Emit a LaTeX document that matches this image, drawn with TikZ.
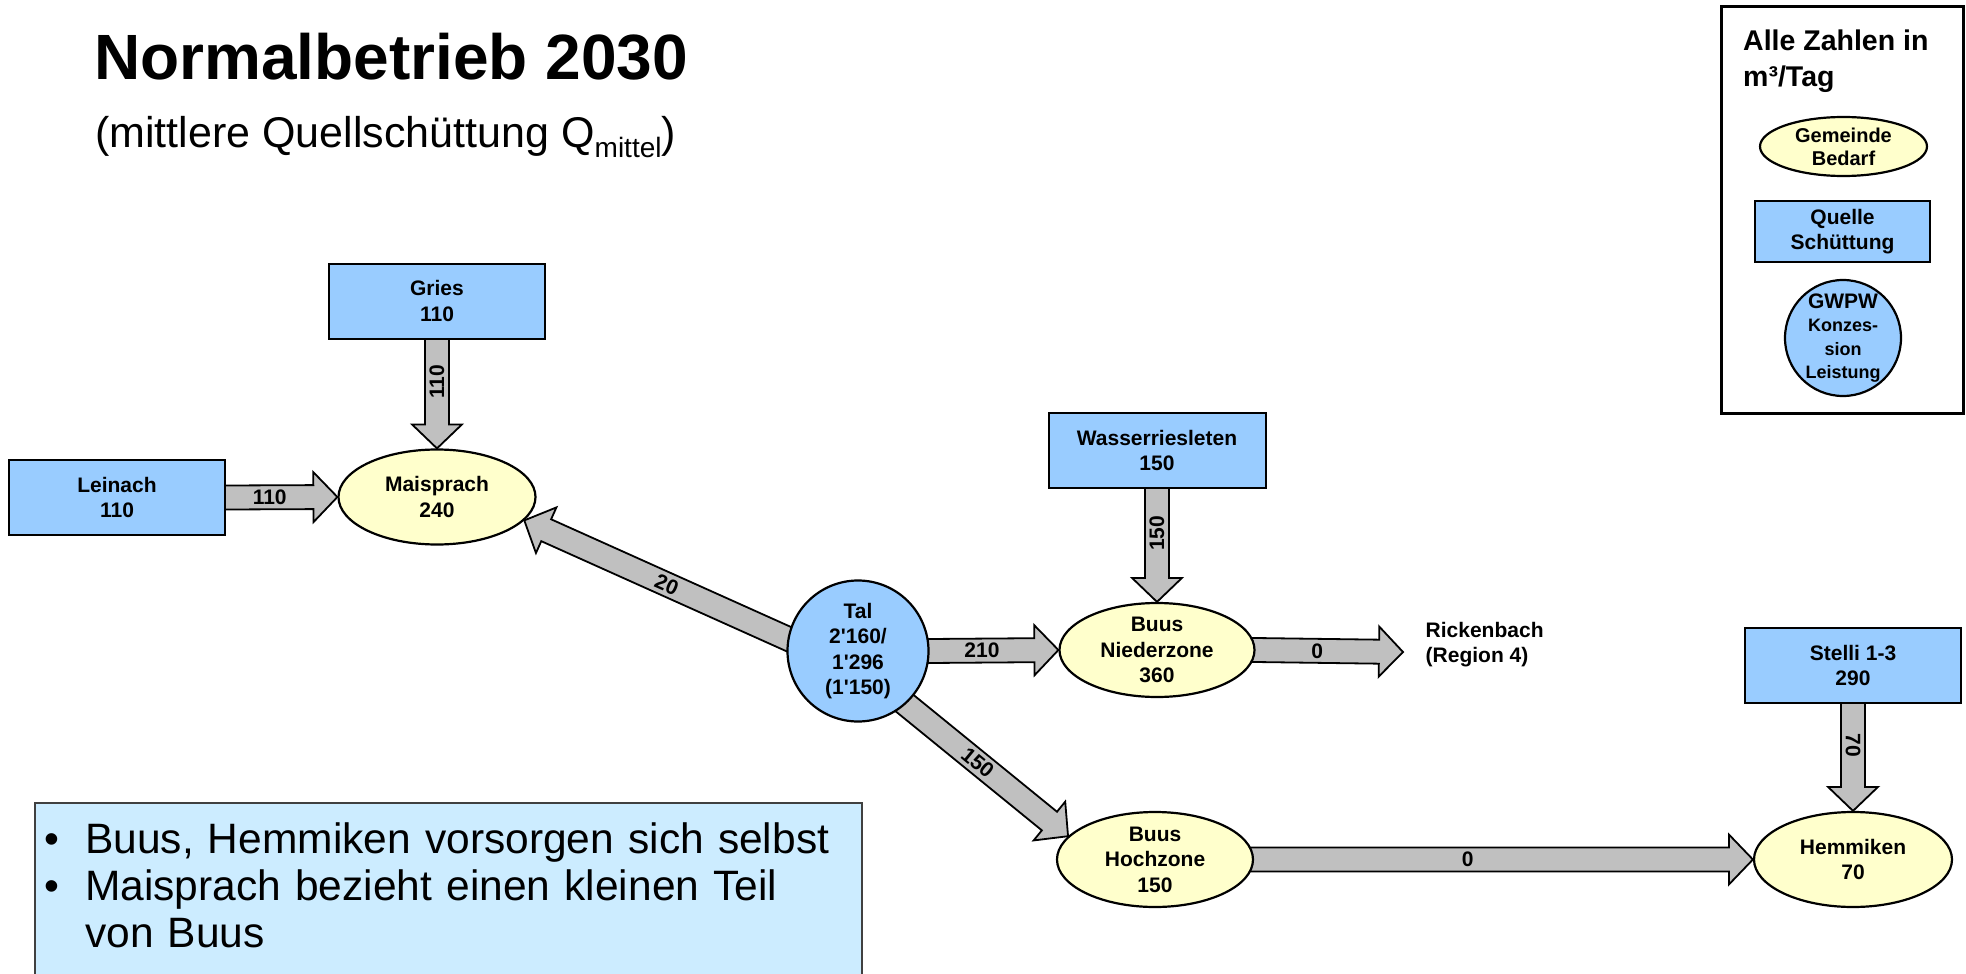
\documentclass[tikz,border=0pt]{standalone}
\usepackage{fontspec}
\setmainfont{Liberation Sans}[Ligatures=TeXOff]
\usetikzlibrary{shapes.geometric,calc}
\pgfdeclarelayer{background}
\pgfsetlayers{background,main}

\definecolor{srcblue}{HTML}{99CCFF}
\definecolor{demandyellow}{HTML}{FFFFCC}
\definecolor{flowgray}{HTML}{C0C0C0}
\definecolor{notefill}{HTML}{CCECFF}

\tikzset{
  lbl/.style={font=\fontsize{21}{25.5}\selectfont\bfseries, align=center},
  source/.style={lbl, draw, line width=2pt, fill=srcblue,
    minimum width=216pt, minimum height=75pt, inner sep=0pt},
  demand/.style={lbl, ellipse, draw, line width=2.2pt, fill=demandyellow,
    minimum width=197pt, minimum height=95pt, inner sep=-30pt},
  plant/.style={lbl, circle, draw, line width=2.2pt, fill=srcblue,
    minimum size=141pt, inner sep=0pt},
  flowarrow/.style={draw, line width=1.8pt, fill=flowgray, line join=miter},
  flowlabel/.style={font=\fontsize{21}{21}\selectfont\bfseries, inner sep=0pt},
}

% broad block arrow from #1 to #2, label #3 turned by #4, placed at #5 of the shaft
\newcommand{\waterflow}[5]{%
  \coordinate (wf-a) at (#1);
  \coordinate (wf-e) at (#2);
  \coordinate (wf-s) at ($(wf-a)!-8pt!(wf-e)$);
  \coordinate (wf-b) at ($(wf-e)!24pt!(wf-a)$);
  \begin{pgfonlayer}{background}
    \draw[flowarrow]
      ($(wf-s)!12pt!90:(wf-e)$) -- ($(wf-b)!12pt!90:(wf-e)$) --
      ($(wf-b)!25pt!90:(wf-e)$) -- (wf-e) --
      ($(wf-b)!25pt!-90:(wf-e)$) -- ($(wf-b)!12pt!-90:(wf-e)$) --
      ($(wf-s)!12pt!-90:(wf-e)$) -- cycle;
  \end{pgfonlayer}
  \node[flowlabel, rotate=#4] at ($(wf-a)!#5!(wf-b)$) {#3};
}

% one bulleted line of the remarks box, and its continuation line
\newcommand{\remarkitem}[1]{\noindent\makebox[41pt][l]{\textbullet}#1\par}
\newcommand{\remarkcont}[1]{\noindent\hspace*{41pt}#1\par}

\begin{document}
\begin{tikzpicture}[x=1pt, y=-1pt]
\useasboundingbox (0,0) rectangle (1966,974);

% heading
\node[anchor=base west, inner sep=0pt, font=\fontsize{64}{70}\selectfont\bfseries]
  (title) at (94,80) {Normalbetrieb 2030};
\node[anchor=base west, inner sep=0pt, font=\fontsize{43}{50}\selectfont]
  (subtitle) at (95,147)
  {(mittlere Quellschüttung Q\raisebox{-10pt}{\fontsize{28}{30}\selectfont mittel})};

% legend
\draw[line width=3pt] (1721,7) rectangle (1963,413);
\node[anchor=base west, inner sep=0pt, font=\fontsize{28.5}{35}\selectfont\bfseries]
  (unit1) at (1743,51) {Alle Zahlen in};
\node[anchor=base west, inner sep=0pt, font=\fontsize{28.5}{35}\selectfont\bfseries]
  (unit2) at (1743,86) {m³/Tag};
\node[demand, font=\fontsize{20}{23}\selectfont\bfseries,
  minimum width=167pt, minimum height=59pt] (keydemand) at (1843.5,146.5) {Gemeinde\\Bedarf};
\node[source, minimum width=175pt, minimum height=61pt] (keysource) at (1842.5,231.5) {Quelle\\Schüttung};
\node[plant, font=\fontsize{18}{23.5}\selectfont\bfseries, minimum size=116pt, inner sep=-3pt]
  (keyplant) at (1843,338)
  {{\fontsize{21}{23.5}\selectfont GWPW}\\Konzes-\\sion\\Leistung};

% sources
\node[source] (gries) at (437,301) {Gries\\110};
\node[source] (lein) at (117,497.5) {Leinach\\110};
\node[source, minimum width=217pt] (wass) at (1157,450.5) {Wasserriesleten\\150};
\node[source] (stel) at (1853,665.5) {Stelli 1-3\\290};

% consumers
\node[demand] (mais) at (437,497) {Maisprach\\240};
\node[demand, minimum width=195pt, minimum height=94pt] (nied) at (1157,650) {Buus\\Niederzone\\360};
\node[demand, minimum width=196pt] (hoch) at (1155,859.5) {Buus\\Hochzone\\150};
\node[demand, minimum width=198pt] (hemm) at (1853,859.5) {Hemmiken\\70};

% groundwater plant
\node[plant] (tal) at (858,651) {Tal\\2'160/\\1'296\\(1'150)};

% outlet towards Rickenbach
\coordinate (rick) at (1403,652);
\node[lbl, align=left, anchor=west, inner sep=0pt] (rickname) at (1425.5,644.5)
  {Rickenbach\\(Region 4)};

% flows
\waterflow{gries.south}{mais.north}{110}{90}{0.5}
\waterflow{lein.east}{mais.west}{110}{0}{0.5}
\waterflow{tal.170}{mais.-15}{20}{-23.8}{0.5}
\waterflow{tal.east}{nied.west}{210}{0}{0.5}
\waterflow{tal.-48}{hoch.165}{150}{-39.4}{0.5}
\waterflow{wass.south}{nied.north}{150}{90}{0.5}
\waterflow{nied.east}{rick}{0}{0}{0.5}
\waterflow{hoch.east}{hemm.west}{0}{0}{0.45}
\waterflow{stel.south}{hemm.north}{70}{-90}{0.5}

% remarks
\fill[notefill] (35,803) rectangle (862,974);
\draw[line width=1.5pt, black!75] (35,974) -- (35,803) -- (862,803) -- (862,974);
\node[anchor=north west, inner sep=0pt, text width=810pt,
  font=\fontsize{42.5}{47}\selectfont] (remarks) at (44,822)
  {\remarkitem{Buus, Hemmiken vorsorgen sich selbst}%
   \remarkitem{Maisprach bezieht einen kleinen Teil}%
   \remarkcont{von Buus}};
\end{tikzpicture}
\end{document}
